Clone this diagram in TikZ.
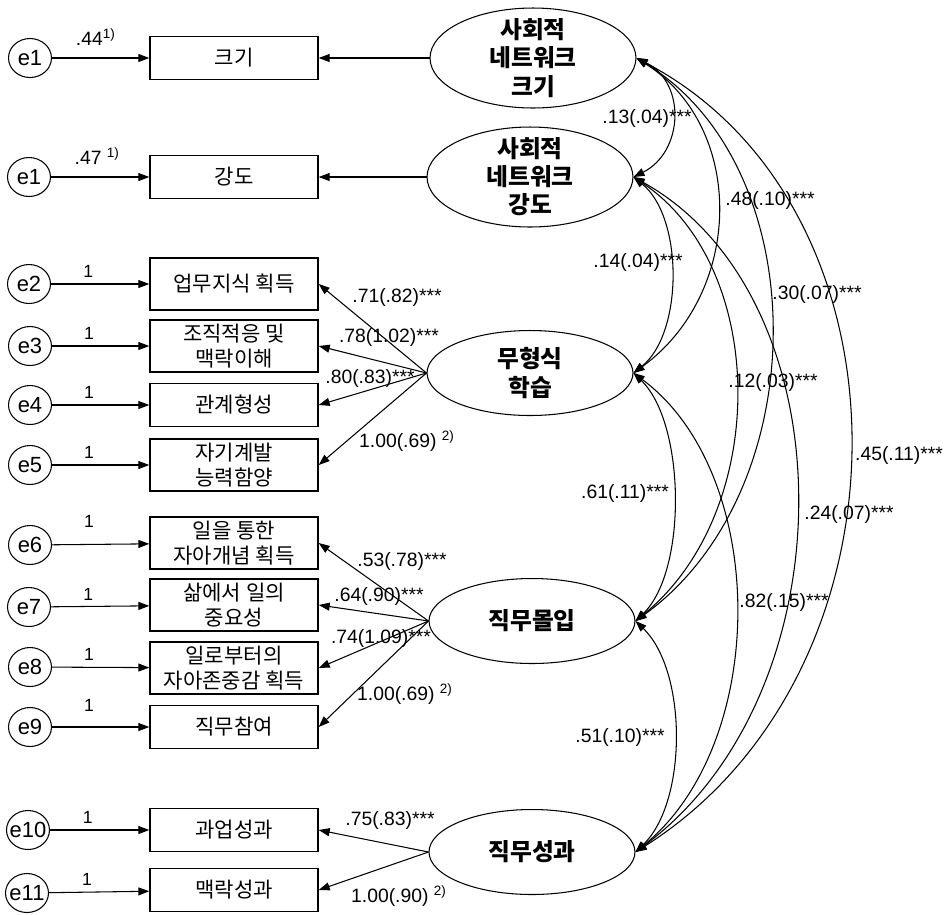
\documentclass[tikz,border=0pt]{standalone}
\usepackage{fontspec}
\setmainfont{Liberation Sans}
\newfontfamily\kr{Noto Sans CJK KR}
\usetikzlibrary{shapes.geometric, arrows.meta, positioning}

\begin{document}
\begin{tikzpicture}[x=0.02cm, y=-0.02cm, >={Triangle[length=2.2mm,width=1.6mm]}, line width=0.6pt,
    errnode/.style={ellipse, draw, minimum width=0.86cm, minimum height=0.78cm, inner sep=0pt, font=\fontsize{12.5}{15}\selectfont},
    obsbox/.style={rectangle, draw, line width=0.8pt, minimum width=3.36cm, minimum height=0.86cm, inner sep=1pt, align=center, font=\kr\fontsize{12}{14}\selectfont},
    tallbox/.style={obsbox, minimum height=1.04cm},
    latent/.style={ellipse, draw, minimum width=4.12cm, minimum height=1.7cm, inner sep=0pt},
    latname/.style={align=center, font=\kr\bfseries\fontsize{13.5}{16}\selectfont},
    coef/.style={font=\fontsize{11}{13}\selectfont, inner sep=0pt},
    one/.style={font=\fontsize{10}{12}\selectfont}]
  \useasboundingbox (0,0) rectangle (946,914);

  % latent factors
  \node (size) [latent, minimum height=2cm, label={[latname]center:사회적\\네트워크\\크기}] at (533,58) {};
  \node (tie) [latent, minimum height=2cm, label={[latname]center:사회적\\네트워크\\강도}] at (530,177) {};
  \node (infl) [latent, label={[latname]center:무형식\\학습}] at (530,373) {};
  \node (engage) [latent, label={[latname]center:직무몰입}] at (532,621) {};
  \node (perf) [latent, label={[latname]center:직무성과}] at (532,852) {};

  % observed variables
  \node (bsize) [obsbox] at (234,58) {크기};
  \node (btie) [obsbox] at (234,177) {강도};
  \node (know) [tallbox] at (234,284) {업무지식 획득};
  \node (adapt) [tallbox] at (234,346) {조직적응 및\\맥락이해};
  \node (relat) [obsbox] at (234,405) {관계형성};
  \node (selfdev) [tallbox] at (234,465) {자기계발\\능력함양};
  \node (concept) [tallbox] at (234,543) {일을 통한\\자아개념 획득};
  \node (import) [tallbox] at (234,605) {삶에서 일의\\중요성};
  \node (esteem) [tallbox] at (234,668) {일로부터의\\자아존중감 획득};
  \node (partic) [obsbox] at (234,727) {직무참여};
  \node (task) [obsbox] at (234,830) {과업성과};
  \node (context) [obsbox] at (234,890) {맥락성과};

  % error terms
  \node (esize) [errnode] at (30,58) {\makebox[0pt]{e1}};
  \node (etie) [errnode] at (29,177) {\makebox[0pt]{e1}};
  \node (eknow) [errnode] at (29,284) {\makebox[0pt]{e2}};
  \node (eadapt) [errnode] at (30,346) {\makebox[0pt]{e3}};
  \node (erelat) [errnode] at (30,405) {\makebox[0pt]{e4}};
  \node (eself) [errnode] at (30,465) {\makebox[0pt]{e5}};
  \node (econcept) [errnode] at (30,545) {\makebox[0pt]{e6}};
  \node (eimport) [errnode] at (29,607) {\makebox[0pt]{e7}};
  \node (eesteem) [errnode] at (30,667) {\makebox[0pt]{e8}};
  \node (epartic) [errnode] at (30,727) {\makebox[0pt]{e9}};
  \node (etask) [errnode] at (28,830) {\makebox[0pt]{e10}};
  \node (econtext) [errnode] at (27,893) {\makebox[0pt]{e11}};

  \draw[->] (esize) -- node[coef, above=7pt, pos=0.45] {.44\textsuperscript{1)}} (bsize);
  \draw[->] (etie) -- node[coef, above=7pt, pos=0.47] {.47 \textsuperscript{1)}} (btie);
  \draw[->] (eknow) -- node[one, above, pos=0.38] {1} (know);
  \draw[->] (eadapt) -- node[one, above, pos=0.38] {1} (adapt);
  \draw[->] (erelat) -- node[one, above, pos=0.38] {1} (relat);
  \draw[->] (eself) -- node[one, above, pos=0.38] {1} (selfdev);
  \draw[->] (econcept) -- node[one, above=6pt, pos=0.38] {1} (concept);
  \draw[->] (eimport) -- node[one, above, pos=0.38] {1} (import);
  \draw[->] (eesteem) -- node[one, above, pos=0.38] {1} (esteem);
  \draw[->] (epartic) -- node[one, above=5pt, pos=0.38] {1} (partic);
  \draw[->] (etask) -- node[one, above, pos=0.38] {1} (task);
  \draw[->] (econtext) -- node[one, above, pos=0.38] {1} (context);

  % factor loadings
  \draw[->] (size.west) -- (bsize);
  \draw[->] (tie.west) -- (btie);
  \draw[->] (infl.west) -- (know.east);
  \draw[->] (infl.west) -- (adapt.east);
  \draw[->] (infl.west) -- (relat.east);
  \draw[->] (infl.west) -- (selfdev.east);
  \draw[->] (engage.west) -- (concept.east);
  \draw[->] (engage.west) -- (import.east);
  \draw[->] (engage.west) -- (esteem.east);
  \draw[->] (engage.west) -- (partic.east);
  \draw[->] (perf.west) -- (task.east);
  \draw[->] (perf.west) -- (context.east);

  \node (lknow) [coef] at (397,297) {.71(.82)***};
  \node (ladapt) [coef] at (389,337) {.78(1.02)***};
  \node (lrelat) [coef] at (370,378) {.80(.83)***};
  \node (lself) [coef] at (407,441) {1.00(.69) \textsuperscript{2)}};
  \node (lconcept) [coef] at (402,561) {.53(.78)***};
  \node (limport) [coef] at (379,596) {.64(.90)***};
  \node (lesteem) [coef] at (381,638) {.74(1.09)***};
  \node (lpartic) [coef] at (405,694) {1.00(.69) \textsuperscript{2)}};
  \node (ltask) [coef] at (390,820) {.75(.83)***};
  \node (lcontext) [coef] at (399,896) {1.00(.90) \textsuperscript{2)}};

  % covariances
  \draw[<->] (size.east) .. controls +(50,25) and +(50,-25) .. (tie.east);
  \draw[<->] (size.east) .. controls +(110,70) and +(110,-80) .. (infl.east);
  \draw[<->] (size.east) .. controls +(180,110) and +(180,-130) .. (engage.east);
  \draw[<->] (size.east) .. controls +(285,150) and +(285,-180) .. (perf.east);
  \draw[<->] (tie.east) .. controls +(50,40) and +(50,-40) .. (infl.east);
  \draw[<->] (tie.east) .. controls +(135,90) and +(135,-110) .. (engage.east);
  \draw[<->] (tie.east) .. controls +(216,120) and +(216,-160) .. (perf.east);
  \draw[<->] (infl.east) .. controls +(52,50) and +(52,-50) .. (engage.east);
  \draw[<->] (infl.east) .. controls +(135,100) and +(135,-110) .. (perf.east);
  \draw[<->] (engage.east) .. controls +(52,50) and +(52,-50) .. (perf.east);

  \node (csizetie) [coef] at (647,118) {.13(.04)***};
  \node (csizeinfl) [coef] at (770,200) {.48(.10)***};
  \node (ctieinfl) [coef] at (638,262) {.14(.04)***};
  \node (csizeeng) [coef] at (817,294) {.30(.07)***};
  \node (ctieeng) [coef] at (773,382) {.12(.03)***};
  \node (csizeperf) [coef] at (899,455) {.45(.11)***};
  \node (cinfleng) [coef] at (625,493) {.61(.11)***};
  \node (ctieperf) [coef] at (849,514) {.24(.07)***};
  \node (cinflperf) [coef] at (784,602) {.82(.15)***};
  \node (cengperf) [coef] at (620,737) {.51(.10)***};
\end{tikzpicture}
\end{document}
